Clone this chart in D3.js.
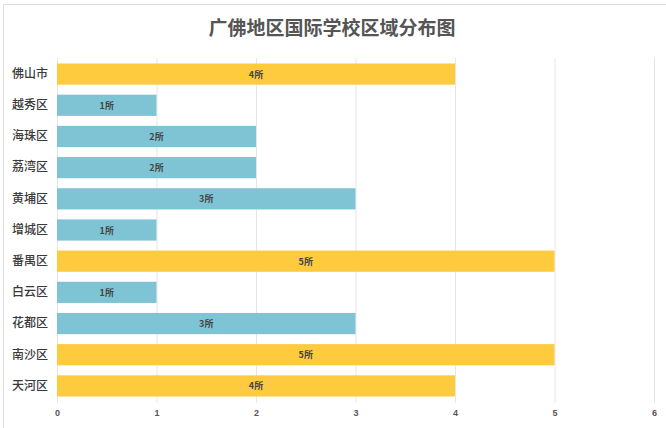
<!DOCTYPE html>
<html><head><meta charset="utf-8">
<script src="https://cdn.jsdelivr.net/npm/d3@7"></script>
<style>body{margin:0;background:#fff;}svg{display:block;font-family:"Noto Sans CJK SC","Noto Sans",sans-serif;}</style>
</head><body><svg id="c" width="666" height="428"></svg>
<script>
const title = "广佛地区国际学校区域分布图";
const categories = ["佛山市","越秀区","海珠区","荔湾区","黄埔区","增城区","番禺区","白云区","花都区","南沙区","天河区"];
const values = [4,1,2,2,3,1,5,1,3,5,4];
const highlight = ["佛山市","番禺区","南沙区","天河区"];
const ticks = [0,1,2,3,4,5,6];
const unit = "所";

const svg = d3.select("#c");
// frame
svg.append("path").attr("d","M3.5,428 V4.5 H666").attr("fill","none").attr("stroke","#ddd").attr("stroke-width",1);

const x = d3.scaleLinear().domain([0,6]).range([57,654]);
const y = d3.scaleBand().domain(categories).range([58.5,401.5]).paddingInner(0.32).paddingOuter(0.16);

svg.append("text").attr("x",332).attr("y",35).attr("text-anchor","middle")
  .attr("font-size",19).attr("font-weight","bold").attr("fill","#555").text(title);

// grid
svg.append("g").selectAll("line").data(ticks).join("line")
  .attr("x1",d=>x(d)+0.5).attr("x2",d=>x(d)+0.5).attr("y1",58).attr("y2",403)
  .attr("stroke","#e6e6e6").attr("stroke-width",1);

// bars
svg.append("g").selectAll("rect").data(categories).join("rect")
  .attr("x",x(0)).attr("y",d=>y(d)).attr("height",y.bandwidth())
  .attr("width",(d,i)=>x(values[i])-x(0))
  .attr("fill",d=>highlight.includes(d)?"#FECB3F":"#7FC4D4");

// value labels
svg.append("g").selectAll("text").data(categories).join("text")
  .attr("x",(d,i)=>(x(0)+x(values[i]))/2).attr("y",d=>y(d)+y.bandwidth()/2+3.5)
  .attr("text-anchor","middle").attr("font-size",9).attr("font-weight","bold").attr("fill","#444")
  .text((d,i)=>values[i]+unit);

// y axis labels
const ya = svg.append("g").attr("transform",`translate(${x(0)},0)`)
  .call(d3.axisLeft(y).tickSize(0).tickPadding(9));
ya.select(".domain").remove();
ya.selectAll("text").attr("font-size",12).attr("font-weight",500).attr("fill","#3a3a3a").attr("font-family","'Noto Sans CJK SC',sans-serif");

// x axis labels
const xa = svg.append("g").attr("transform","translate(0,403)")
  .call(d3.axisBottom(x).tickValues(ticks).tickSize(0).tickPadding(7).tickFormat(d3.format("d")));
xa.select(".domain").remove();
xa.selectAll("text").attr("font-size",9).attr("font-weight","bold").attr("fill","#555");
</script></body></html>
